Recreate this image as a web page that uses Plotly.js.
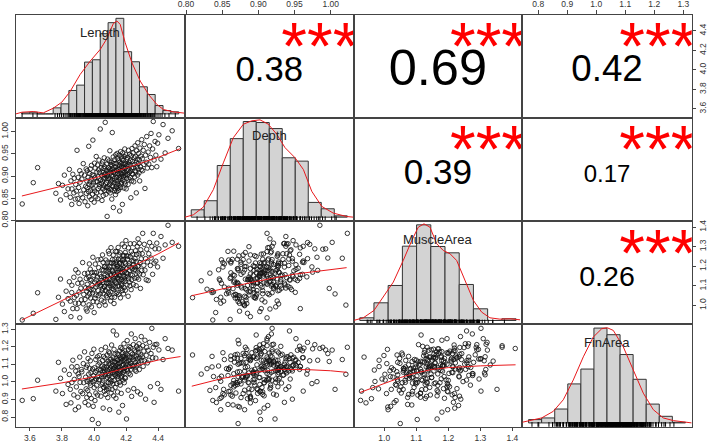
<!DOCTYPE html>
<html><head><meta charset="utf-8">
<script src="https://cdn.plot.ly/plotly-3.0.1.min.js"></script>
<style>html,body{margin:0;padding:0;background:#fff}#chart{width:709px;height:444px}</style>
</head><body><div id="chart"></div>
<script>
const varNames = ['Length', 'Depth', 'MuscleArea', 'FinArea'];

const lengthVals = [
3.552,3.621,3.648,3.762,3.778,3.791,3.803,3.815,3.826,3.838,
3.846,3.852,3.856,3.861,3.862,3.868,3.874,3.877,3.883,3.886,
3.890,3.894,3.899,3.901,3.904,3.907,3.911,3.913,3.918,3.921,
3.924,3.929,3.933,3.936,3.941,3.944,3.948,3.951,3.952,3.955,
3.957,3.958,3.961,3.963,3.965,3.967,3.969,3.971,3.972,3.975,
3.977,3.979,3.981,3.983,3.984,3.987,3.989,3.991,3.993,3.995,
3.997,3.999,4.001,4.003,4.004,4.006,4.008,4.011,4.012,4.014,
4.016,4.018,4.021,4.022,4.024,4.026,4.027,4.029,4.031,4.033,
4.035,4.036,4.039,4.041,4.043,4.045,4.047,4.049,4.050,4.051,
4.053,4.054,4.055,4.057,4.058,4.060,4.061,4.062,4.064,4.065,
4.066,4.068,4.069,4.070,4.072,4.073,4.074,4.076,4.077,4.078,
4.080,4.081,4.082,4.084,4.085,4.086,4.088,4.089,4.090,4.092,
4.093,4.094,4.095,4.097,4.098,4.099,4.100,4.101,4.102,4.104,
4.105,4.106,4.107,4.108,4.110,4.111,4.112,4.113,4.114,4.115,
4.117,4.118,4.119,4.120,4.121,4.122,4.124,4.125,4.126,4.127,
4.128,4.130,4.131,4.132,4.133,4.134,4.136,4.137,4.138,4.139,
4.140,4.141,4.142,4.143,4.145,4.146,4.147,4.148,4.149,4.149,
4.150,4.151,4.152,4.153,4.155,4.156,4.157,4.158,4.159,4.160,
4.161,4.162,4.164,4.165,4.166,4.167,4.168,4.169,4.170,4.171,
4.172,4.173,4.175,4.176,4.177,4.178,4.179,4.180,4.181,4.182,
4.183,4.184,4.185,4.187,4.188,4.189,4.190,4.191,4.192,4.193,
4.194,4.195,4.196,4.198,4.199,4.201,4.203,4.204,4.206,4.207,
4.209,4.210,4.212,4.213,4.215,4.216,4.218,4.219,4.221,4.222,
4.224,4.226,4.227,4.229,4.230,4.232,4.233,4.235,4.237,4.238,
4.240,4.242,4.244,4.246,4.248,4.251,4.252,4.254,4.256,4.257,
4.259,4.261,4.263,4.264,4.266,4.268,4.270,4.272,4.273,4.275,
4.277,4.279,4.281,4.283,4.285,4.287,4.290,4.292,4.295,4.298,
4.301,4.304,4.307,4.311,4.314,4.318,4.322,4.326,4.329,4.333,
4.338,4.342,4.347,4.352,4.356,4.361,4.366,4.370,4.375,4.381,
4.386,4.392,4.397,4.405,4.418,4.431,4.444,4.462,4.488,4.528];

const depthVals = [
0.837,0.885,0.919,0.861,0.883,0.846,0.879,0.902,0.858,0.871,
0.915,0.852,0.889,0.836,0.871,0.904,0.862,0.895,0.848,0.881,
0.866,0.958,0.849,0.897,0.874,0.838,0.912,0.886,0.859,0.905,
0.893,0.851,0.928,0.869,0.902,0.842,0.877,0.916,0.861,0.889,
0.874,0.912,0.833,0.897,0.865,0.967,0.881,0.853,0.906,0.887,
0.916,0.868,0.893,0.847,0.924,0.879,0.903,0.859,0.981,0.872,
0.884,0.901,0.841,0.929,0.866,0.896,0.918,0.853,0.887,0.944,
0.862,0.909,0.887,0.925,0.849,0.898,0.872,0.914,0.936,0.881,
0.908,0.876,1.006,0.891,0.864,0.919,0.883,0.902,0.845,0.927,
0.889,0.932,0.871,0.908,0.856,0.894,0.917,0.878,0.941,0.903,
0.921,0.867,0.895,1.021,0.882,0.906,0.859,0.913,0.874,0.899,
0.885,0.927,0.809,0.902,0.938,0.876,0.911,0.894,0.866,0.919,
0.898,0.872,0.934,0.915,0.881,0.957,0.893,0.862,0.908,0.926,
0.887,0.913,0.869,0.931,0.902,0.848,0.924,0.891,0.998,0.879,
0.916,0.876,0.899,0.943,0.829,0.908,0.928,0.884,0.911,0.867,
0.894,0.937,0.871,0.905,0.921,0.858,0.948,0.889,0.913,0.876,
0.928,0.897,0.865,0.912,0.951,0.883,0.906,0.939,0.872,0.918,
0.889,0.915,0.934,0.868,0.902,0.947,0.879,0.924,0.896,0.821,
0.931,0.893,0.917,0.874,0.955,0.906,0.882,0.928,0.899,0.943,
0.885,0.921,0.904,0.939,0.836,0.913,0.952,0.891,0.927,0.907,
0.936,0.898,0.919,0.873,0.944,0.908,0.887,0.926,0.961,0.901,
0.917,0.882,0.929,0.904,0.948,0.871,0.923,0.895,0.937,0.912,
0.942,0.903,0.926,0.881,0.958,0.914,0.893,0.931,0.908,0.949,
0.924,0.897,0.935,0.911,0.851,0.946,0.918,0.889,0.962,0.905,
0.933,0.904,0.952,0.919,0.887,0.941,0.926,0.898,0.968,0.912,
0.944,0.909,0.931,0.862,0.957,0.921,0.938,0.902,0.975,0.916,
0.928,0.951,0.907,0.936,0.889,0.963,0.921,0.945,0.914,0.982,
0.939,0.912,0.958,0.926,0.971,0.872,0.947,0.931,0.989,0.918,
0.954,0.927,0.968,0.942,0.996,0.919,0.961,1.023,0.936,0.978,
0.947,0.921,0.974,0.993,0.938,1.016,0.952,0.985,1.002,0.962];

const muscleVals = [
0.926,0.960,1.065,0.929,1.042,1.135,1.007,0.969,1.073,1.035,
1.121,1.022,0.943,1.066,1.103,0.984,1.144,1.041,1.012,1.182,
1.052,0.984,1.113,1.167,1.011,1.069,0.937,1.134,1.088,1.029,
1.115,1.219,1.008,1.056,1.163,1.031,1.090,0.982,1.138,1.073,
0.971,1.108,1.165,1.048,1.086,1.146,1.003,1.212,1.060,1.133,
1.185,1.038,1.080,1.128,0.993,1.169,1.103,1.064,1.246,1.020,
1.079,1.154,0.964,1.168,1.119,1.037,1.211,1.094,1.053,1.130,
1.167,1.018,1.145,1.105,1.233,1.076,1.050,1.193,1.114,0.999,
1.116,1.159,1.059,1.102,1.235,1.147,1.027,1.128,1.182,1.075,
1.258,1.088,1.117,1.220,1.060,1.179,1.142,1.019,1.098,1.197,
1.094,1.153,1.199,1.002,1.134,1.076,1.232,1.178,1.049,1.117,
1.131,1.196,1.040,1.148,1.089,1.221,1.114,1.066,1.277,1.173,
1.185,1.112,1.264,1.055,1.198,1.138,1.100,1.217,1.160,1.023,
1.069,1.295,1.113,1.152,1.218,1.042,1.177,1.129,1.087,1.234,
1.176,1.099,1.140,1.257,1.083,1.165,1.214,1.010,1.200,1.125,
1.042,1.157,1.236,1.093,1.119,1.276,1.148,1.188,1.061,1.210,
1.222,1.115,1.156,1.275,1.067,1.199,1.168,1.142,1.187,1.099,
1.136,1.296,1.235,1.057,1.180,1.155,1.258,1.098,1.217,1.126,
1.215,1.154,1.269,1.039,1.190,1.236,1.086,1.171,1.113,1.131,
1.102,1.209,1.167,1.313,1.076,1.232,1.184,1.125,1.257,1.150,
1.196,1.059,1.234,1.253,1.091,1.174,1.300,1.136,1.221,1.148,
1.123,1.270,1.078,1.213,1.331,1.188,1.165,1.254,1.105,1.149,
1.237,1.162,1.251,1.047,1.294,1.136,1.202,1.120,1.213,1.177,
1.100,1.249,1.315,1.158,1.196,1.081,1.275,1.132,1.227,1.187,
1.155,1.262,1.208,1.107,1.227,1.315,1.182,1.139,1.239,1.196,
1.279,1.180,1.101,1.224,1.261,1.142,1.302,1.199,1.170,1.340,
1.202,1.134,1.263,1.317,1.161,1.219,1.087,1.284,1.238,1.179,
1.264,1.368,1.157,1.205,1.312,1.180,1.239,1.131,1.287,1.222,
1.127,1.264,1.321,1.204,1.242,1.302,1.159,1.368,1.216,1.289,
1.226,1.318,1.197,1.289,1.352,1.241,1.309,1.409,1.322,1.302];

const finVals = [
0.895,0.905,1.010,0.948,1.112,1.021,0.934,1.068,0.872,0.986,
1.043,0.958,0.881,1.086,0.997,1.124,0.926,1.015,0.842,1.062,
0.972,1.088,0.913,1.046,0.857,1.031,1.142,0.998,0.946,1.071,
1.058,0.934,1.105,0.996,1.172,0.883,1.027,0.961,1.084,0.912,
1.003,1.096,0.952,1.134,0.869,1.045,1.011,0.927,1.078,0.994,
1.121,0.981,1.052,0.906,1.017,1.163,0.786,1.074,1.002,0.861,
1.036,1.187,0.968,1.081,1.009,0.894,1.055,1.128,0.937,1.017,
0.981,1.064,1.143,0.925,1.033,1.098,0.763,1.012,1.071,1.151,
1.013,1.109,0.958,1.067,0.919,1.184,1.028,0.986,1.091,1.043,
1.122,0.994,1.057,0.851,1.076,1.146,0.969,1.031,1.085,0.947,
1.061,1.137,0.982,1.044,1.198,0.929,1.073,1.018,1.106,0.956,
1.087,0.973,1.154,1.026,1.063,0.911,1.118,0.998,1.047,1.172,
0.962,1.101,1.038,1.165,0.842,1.072,1.013,1.128,0.995,1.081,
1.052,1.131,0.937,1.089,1.211,1.004,1.066,0.958,1.117,1.029,
1.098,0.989,1.142,1.291,1.076,0.921,1.053,1.186,1.009,1.113,
1.041,1.082,1.158,0.969,1.114,1.037,1.093,0.907,1.066,1.135,
1.074,1.268,0.991,1.048,1.123,1.162,0.943,1.087,1.031,1.102,
1.128,1.017,1.082,1.155,0.828,1.063,1.109,0.998,1.177,1.045,
1.086,1.141,0.982,1.059,1.112,1.197,1.024,1.071,0.935,1.133,
1.034,1.118,1.189,1.052,1.146,0.866,1.093,1.167,1.011,1.124,
1.101,1.056,1.143,1.218,1.079,0.996,1.131,1.064,1.178,1.025,
1.149,1.083,1.021,1.162,1.097,1.135,0.789,1.072,1.114,1.236,
1.063,1.154,1.102,0.953,1.186,1.121,1.049,1.203,1.088,1.141,
1.125,1.196,1.041,1.108,1.167,1.073,1.274,0.918,1.139,1.094,
1.158,1.087,1.126,1.213,0.962,1.144,1.095,1.181,1.068,1.247,
1.112,1.173,1.061,1.148,1.204,1.096,1.133,0.944,1.189,1.119,
1.166,1.102,1.218,1.071,1.137,1.193,0.931,1.155,1.259,1.124,
1.143,1.207,1.089,1.176,1.121,1.238,0.902,1.152,1.198,1.109,
1.181,1.124,1.226,0.973,1.162,1.306,1.138,1.198,0.884,1.213,
1.136,1.215,0.991,1.183,0.958,1.128,1.247,1.191,1.182,0.948];

// correlation panels (row, col, r, stars)
const corrRows = [0, 0, 0, 1, 1, 2];
const corrCols = [1, 2, 3, 2, 3, 3];
const corrValues = [0.38, 0.69, 0.42, 0.39, 0.17, 0.26];
const corrStars = ['***', '***', '***', '***', '***', '***'];

// histogram breaks and bar heights (relative density)
const histStart = [3.55, 0.80, 0.90, 0.75];
const histWidth = [0.05, 0.02, 0.05, 0.05];
const lengthHist = [3,5,0,0,18,30,70,86,155,162,240,273,286,186,156,81,58,25,10,6];
const depthHist = [22,49,154,234,285,282,264,177,167,44,25,4];
const muscleHist = [8,53,105,223,287,222,203,108,35,0,5];
const finHist = [10,15,42,118,163,287,267,207,132,57,20,2];

// density curves
const lengthDensX = [3.513,3.551,3.623,3.687,3.751,3.805,3.858,3.922,3.986,4.05,4.092,4.134,4.156,4.177,4.209,4.252,4.305,4.358,4.411,4.453,4.516,4.59];
const lengthDensY = [0,5,7,3,17,35,67,118,158,193,225,271,278,268,213,153,98,58,28,13,6,2];
const depthDensX = [0.7904,0.8032,0.8186,0.834,0.8494,0.8648,0.8802,0.893,0.9058,0.9186,0.9315,0.9443,0.9597,0.9725,0.9854,1.0008,1.0186,1.0391,1.0494];
const depthDensY = [0,7,30,82,162,237,277,287,290,277,247,207,177,142,77,32,12,2,0];
const muscleDensX = [0.878,0.9125,0.95,0.983,1.018,1.053,1.083,1.106,1.126,1.147,1.171,1.194,1.218,1.241,1.27,1.3,1.329,1.358,1.393,1.429,1.464];
const muscleDensY = [0,8,30,70,115,180,240,280,290,280,230,210,200,180,120,60,25,8,4,5,2];
const finDensX = [0.726,0.7555,0.8,0.8446,0.8828,0.921,0.9594,0.9976,1.0298,1.0512,1.0741,1.1124,1.1506,1.1889,1.2271,1.2654,1.3037,1.3419,1.374];
const finDensY = [2,8,15,35,70,130,200,260,285,288,280,230,160,90,40,15,7,2,0];

// smoothing lines of the scatter panels
const smoothDLx = [3.55,3.8,4.0,4.2,4.4,4.54];
const smoothDLy = [0.855,0.878,0.895,0.918,0.942,0.962];
const smoothMLx = [3.55,3.8,4.0,4.2,4.4,4.53];
const smoothMLy = [0.926,1.025,1.103,1.183,1.263,1.32];
const smoothMDx = [0.808,0.85,0.9,0.95,1.0,1.022];
const smoothMDy = [1.05,1.085,1.125,1.16,1.185,1.193];
const smoothFLx = [3.55,3.8,4.0,4.2,4.4,4.54];
const smoothFLy = [0.96,0.995,1.03,1.08,1.125,1.145];
const smoothFDx = [0.808,0.85,0.9,0.93,0.97,1.0,1.022];
const smoothFDy = [0.976,1.02,1.058,1.072,1.07,1.064,1.055];
const smoothFMx = [0.924,1.0,1.05,1.1,1.15,1.2,1.3,1.41];
const smoothFMy = [0.94,0.99,1.025,1.052,1.072,1.082,1.092,1.098];

// tick labels
const lengthTicks = [3.6, 3.8, 4.0, 4.2, 4.4];
const depthTicks = [0.80, 0.85, 0.90, 0.95, 1.00];
const muscleTicks = [1.0, 1.1, 1.2, 1.3, 1.4];
const finTicks = [0.8, 0.9, 1.0, 1.1, 1.2, 1.3];

// ---------- build ----------
const W = 709, H = 444;
const colEdges = [15.5, 185, 353.5, 522.3, 691.7];
const rowEdges = [14.5, 117.7, 221, 324.3, 426.7];
const varRanges = [[3.51, 4.568], [0.7986, 1.0315], [0.904, 1.431], [0.745, 1.329]];
const vals = [lengthVals, depthVals, muscleVals, finVals];
const hists = [lengthHist, depthHist, muscleHist, finHist];
const densX = [lengthDensX, depthDensX, muscleDensX, finDensX];
const densY = [lengthDensY, depthDensY, muscleDensY, finDensY];
const smooths = {
  '1,0': [smoothDLx, smoothDLy], '2,0': [smoothMLx, smoothMLy], '2,1': [smoothMDx, smoothMDy],
  '3,0': [smoothFLx, smoothFLy], '3,1': [smoothFDx, smoothFDy], '3,2': [smoothFMx, smoothFMy]
};
const tickSpec = {
  'x,0,1': {side: 'top', v: depthTicks, d: 2},
  'x,0,3': {side: 'top', v: finTicks, d: 1},
  'y,0,3': {side: 'right', v: lengthTicks, d: 1},
  'y,2,3': {side: 'right', v: muscleTicks, d: 1},
  'y,1,0': {side: 'left', v: depthTicks, d: 2},
  'y,3,0': {side: 'left', v: finTicks, d: 1},
  'x,3,0': {side: 'bottom', v: lengthTicks, d: 1},
  'x,3,2': {side: 'bottom', v: muscleTicks, d: 1}
};
const FONT = 'Liberation Sans, Arial, sans-serif';
const layout = {
  width: W, height: H, margin: {l: 0, r: 0, t: 0, b: 0},
  paper_bgcolor: '#fff', plot_bgcolor: '#fff', showlegend: false,
  font: {family: FONT, color: '#222'}, annotations: []
};
const traces = [];
const sfx = n => (n === 1 ? '' : String(n));

function makeAxis(domain, range, key, isY) {
  const a = {domain: domain, range: range, showgrid: false, zeroline: false, showline: true,
    mirror: true, linecolor: '#444', linewidth: 1, ticks: '', showticklabels: false, fixedrange: true};
  const t = tickSpec[key];
  if (t) {
    a.side = t.side; a.ticks = 'outside'; a.ticklen = 3.5; a.tickwidth = 1; a.tickcolor = '#444';
    a.tickmode = 'array'; a.tickvals = t.v; a.ticktext = t.v.map(v => v.toFixed(t.d));
    a.showticklabels = true; a.tickfont = {size: 8.5, color: '#333', family: FONT};
    if (isY) a.tickangle = -90;
  }
  return a;
}

for (let r = 0; r < 4; r++) {
  for (let c = 0; c < 4; c++) {
    const n = r * 4 + c + 1;
    const xn = 'x' + sfx(n), yn = 'y' + sfx(n);
    const xd = [colEdges[c] / W, colEdges[c + 1] / W];
    const yd = [1 - rowEdges[r + 1] / H, 1 - rowEdges[r] / H];
    let xr, yr;
    if (r === c) {
      const nb = hists[r].length, s = histStart[r], w = histWidth[r];
      const e = 0.04 * nb * w;
      xr = [s - e, s + nb * w + e];
      const mx = Math.max(...hists[r]);
      yr = [-0.04 * mx, 1.04 * mx];
      traces.push({type: 'bar', x: hists[r].map((h, i) => s + (i + 0.5) * w), y: hists[r], width: w,
        marker: {color: '#d3d3d3', line: {color: '#333', width: 1}}, xaxis: xn, yaxis: yn});
      traces.push({type: 'scatter', mode: 'lines', x: densX[r], y: densY[r], line: {color: '#e8191c', width: 1},
        xaxis: xn, yaxis: yn, cliponaxis: true});
      traces.push({type: 'scatter', mode: 'markers', x: vals[r], y: vals[r].map(() => -0.021 * mx),
        marker: {symbol: 'line-ns-open', size: 4, color: '#000', line: {color: '#000', width: 1}}, xaxis: xn, yaxis: yn});
      layout.annotations.push({xref: 'paper', yref: 'paper', x: (colEdges[c] + colEdges[c + 1]) / 2 / W,
        y: 1 - (rowEdges[r] + 18) / H, text: varNames[r], showarrow: false, xanchor: 'center', yanchor: 'middle',
        font: {size: 13, color: '#222', family: FONT}});
    } else {
      xr = varRanges[c]; yr = varRanges[r];
      if (r > c) {
        traces.push({type: 'scatter', mode: 'markers', x: vals[c], y: vals[r], xaxis: xn, yaxis: yn,
          marker: {symbol: 'circle-open', size: 4.5, color: 'rgba(20,20,20,0.85)', line: {width: 1}}, cliponaxis: true});
        const sm = smooths[r + ',' + c];
        traces.push({type: 'scatter', mode: 'lines', x: sm[0], y: sm[1], xaxis: xn, yaxis: yn,
          line: {color: '#e8191c', width: 1}});
      }
    }
    layout['xaxis' + sfx(n)] = Object.assign(makeAxis(xd, xr, 'x,' + r + ',' + c, false), {anchor: yn});
    layout['yaxis' + sfx(n)] = Object.assign(makeAxis(yd, yr, 'y,' + r + ',' + c, true), {anchor: xn});
  }
}

for (let i = 0; i < corrValues.length; i++) {
  const r = corrRows[i], c = corrCols[i], n = r * 4 + c + 1;
  const xr = varRanges[c], yr = varRanges[r];
  const size = 50.5 * (Math.abs(corrValues[i]) + 0.3) / 0.99;
  traces.push({type: 'scatter', mode: 'text', x: [xr[0] + 0.5 * (xr[1] - xr[0])], y: [yr[0] + 0.44 * (yr[1] - yr[0])],
    text: [corrValues[i].toFixed(2)], textposition: 'middle center', cliponaxis: true,
    textfont: {size: size, color: '#000', family: FONT}, xaxis: 'x' + sfx(n), yaxis: 'y' + sfx(n)});
  traces.push({type: 'scatter', mode: 'text', x: [xr[0] + 0.8 * (xr[1] - xr[0])], y: [yr[0] + 0.63 * (yr[1] - yr[0])],
    text: [corrStars[i]], textposition: 'middle center', cliponaxis: true,
    textfont: {size: 66, color: '#ff0000', family: FONT}, xaxis: 'x' + sfx(n), yaxis: 'y' + sfx(n)});
}

Plotly.newPlot('chart', traces, layout, {staticPlot: true, displayModeBar: false});
</script>
</body></html>
